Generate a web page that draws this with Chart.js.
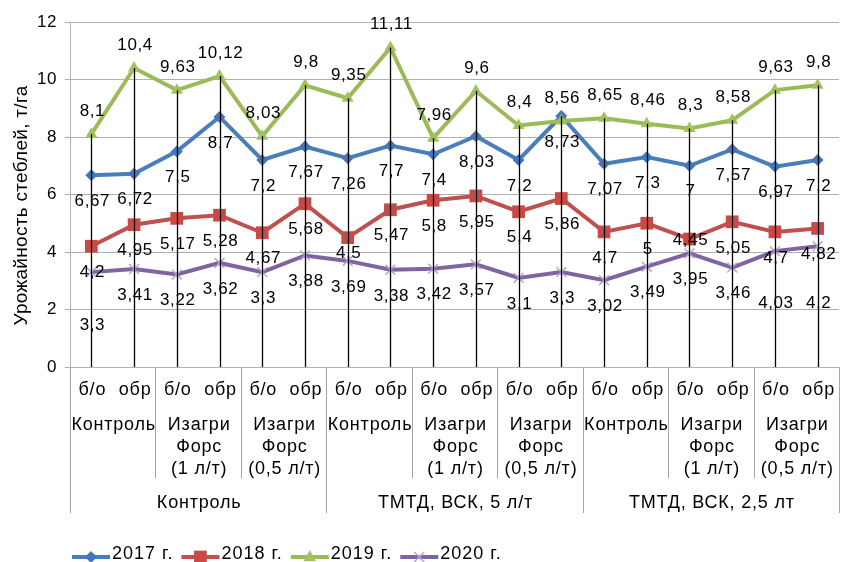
<!DOCTYPE html>
<html>
<head>
<meta charset="utf-8">
<script src="https://cdn.jsdelivr.net/npm/chart.js@4.4.1/dist/chart.umd.min.js"></script>
<style>
    html, body { margin: 0; padding: 0; background: #fff; }
    #wrap { width: 848px; height: 562px; }
</style>
</head>
<body>
<div id="wrap"><canvas id="yield-chart" width="848" height="562"></canvas></div>
<script>
// Axis labels (three levels)
const subLabels = ['б/о', 'обр'];
const variantLabels = [['Контроль'], ['Изагри', 'Форс', '(1 л/т)'], ['Изагри', 'Форс', '(0,5 л/т)']];
const backgroundLabels = ['Контроль', 'ТМТД, ВСК, 5 л/т', 'ТМТД, ВСК, 2,5 лт'];

// Series values, т/га
const y2017 = [6.67, 6.72, 7.5, 8.7, 7.2, 7.67, 7.26, 7.7, 7.4, 8.03, 7.2, 8.73, 7.07, 7.3, 7, 7.57, 6.97, 7.2];
const y2018 = [4.2, 4.95, 5.17, 5.28, 4.67, 5.68, 4.5, 5.47, 5.8, 5.95, 5.4, 5.86, 4.7, 5, 4.45, 5.05, 4.7, 4.82];
const y2019 = [8.1, 10.4, 9.63, 10.12, 8.03, 9.8, 9.35, 11.11, 7.96, 9.6, 8.4, 8.56, 8.65, 8.46, 8.3, 8.58, 9.63, 9.8];
const y2020 = [3.3, 3.41, 3.22, 3.62, 3.3, 3.88, 3.69, 3.38, 3.42, 3.57, 3.1, 3.3, 3.02, 3.49, 3.95, 3.46, 4.03, 4.2];
const seriesNames = ['2017 г.', '2018 г.', '2019 г.', '2020 г.'];

// Y axis range
const yMin = 0;
const yMax = 12;
const yStep = 2;

const yTitle = 'Урожайность стеблей, т/га';

// build the flat category list
const categories = [];
backgroundLabels.forEach(() => {
    variantLabels.forEach(() => {
        subLabels.forEach(s => categories.push(s));
    });
});

const seriesData = [y2017, y2018, y2019, y2020];
const styles = [
    { color: '#4a7ebb', marker: 'rectRot', r: 6, fill: '#4277b8', labelDy: 26 },
    { color: '#c0504d', marker: 'rect', r: 9, fill: '#c84a47', labelDy: 26 },
    { color: '#9bbb59', marker: 'triangle', r: 7, fill: '#a3c25f', labelDy: -23 },
    { color: '#8064a2', marker: 'crossRot', r: 7, fill: '#b5a6cc', labelDy: 26 }
];
// labels that Excel nudged off their usual place
const labelNudge = { '1-6': 16, '1-14': 1, '3-0': 53, '3-16': 52, '3-17': 57 };

const FONT = '"Liberation Sans", Arial, sans-serif';

function drawMarker(ctx, type, x, y, r, color) {
    ctx.save();
    ctx.fillStyle = color;
    ctx.strokeStyle = color;
    ctx.beginPath();
    if (type === 'rectRot') {
        ctx.moveTo(x - r, y); ctx.lineTo(x, y - r); ctx.lineTo(x + r, y); ctx.lineTo(x, y + r);
        ctx.closePath(); ctx.fill();
    } else if (type === 'rect') {
        const s = r * Math.SQRT1_2;
        ctx.rect(x - s, y - s, 2 * s, 2 * s); ctx.fill();
    } else if (type === 'triangle') {
        ctx.moveTo(x, y - r); ctx.lineTo(x + r * 0.9, y + r * 0.6); ctx.lineTo(x - r * 0.9, y + r * 0.6);
        ctx.closePath(); ctx.fill();
    } else {
        const s = r * Math.SQRT1_2;
        ctx.lineWidth = 1.5;
        ctx.moveTo(x - s, y - s); ctx.lineTo(x + s, y + s);
        ctx.moveTo(x + s, y - s); ctx.lineTo(x - s, y + s);
        ctx.stroke();
    }
    ctx.restore();
}

const excelPlugin = {
    id: 'excelLook',
    beforeDraw(chart) {
        chart.ctx.letterSpacing = '0.5px';
    },
    afterDatasetsDraw(chart) {
        const ctx = chart.ctx;
        const x = chart.scales.x;
        const y = chart.scales.y;
        const bottom = chart.chartArea.bottom;

        // drop lines from the highest point
        ctx.save();
        ctx.strokeStyle = '#000';
        ctx.lineWidth = 1.3;
        categories.forEach((c, i) => {
            const top = Math.max(...seriesData.map(d => d[i]));
            const px = Math.round(x.getPixelForValue(i)) + 0.5;
            ctx.beginPath();
            ctx.moveTo(px, y.getPixelForValue(top));
            ctx.lineTo(px, bottom);
            ctx.stroke();
        });
        ctx.restore();

        // data labels
        ctx.save();
        ctx.letterSpacing = '0.6px';
        ctx.font = '17px ' + FONT;
        ctx.fillStyle = '#000';
        ctx.textAlign = 'center';
        ctx.textBaseline = 'middle';
        seriesData.forEach((d, s) => {
            d.forEach((v, i) => {
                const key = s + '-' + i;
                const dy = labelNudge[key] !== undefined ? labelNudge[key] : styles[s].labelDy;
                const txt = String(v).replace('.', ',');
                ctx.fillText(txt, x.getPixelForValue(i) + 1, y.getPixelForValue(v) + dy);
            });
        });
        ctx.restore();
    },
    afterDraw(chart) {
        const ctx = chart.ctx;
        const x = chart.scales.x;
        const area = chart.chartArea;
        const step = (area.right - area.left) / categories.length;

        ctx.save();
        ctx.letterSpacing = '0.8px';

        // separators under the axis
        ctx.strokeStyle = '#a6a6a6';
        ctx.lineWidth = 1;
        for (let i = 0; i <= categories.length; i += 2) {
            const px = Math.round(area.left + i * step) + 0.5;
            const isBig = i % 6 === 0;
            ctx.beginPath();
            ctx.moveTo(px, area.bottom);
            ctx.lineTo(px, isBig ? area.bottom + 146 : area.bottom + 111);
            ctx.stroke();
        }

        // category labels
        ctx.fillStyle = '#000';
        ctx.textAlign = 'center';
        ctx.textBaseline = 'middle';
        ctx.font = '18px ' + FONT;
        categories.forEach((c, i) => {
            ctx.fillText(c, x.getPixelForValue(i) + 1, area.bottom + 23);
        });
        let g = 0;
        backgroundLabels.forEach((bg, b) => {
            variantLabels.forEach(lines => {
                const cx = (x.getPixelForValue(g) + x.getPixelForValue(g + 1)) / 2 + 1;
                lines.forEach((ln, k) => {
                    ctx.fillText(ln, cx, area.bottom + 58 + k * 22);
                });
                g += 2;
            });
            const bx = (x.getPixelForValue(b * 6) + x.getPixelForValue(b * 6 + 5)) / 2 + 1;
            ctx.fillText(bg, bx, area.bottom + 136);
        });

        // y axis title
        ctx.save();
        ctx.letterSpacing = '0.3px';
        ctx.translate(22, (area.top + area.bottom) / 2 + 11);
        ctx.rotate(-Math.PI / 2);
        ctx.font = '19px ' + FONT;
        ctx.fillText(yTitle, 0, 0);
        ctx.restore();

        // legend
        ctx.font = '18px ' + FONT;
        ctx.letterSpacing = '1px';
        ctx.textAlign = 'left';
        let lx = 72;
        const ly = 557;
        seriesNames.forEach((name, s) => {
            ctx.strokeStyle = styles[s].color;
            ctx.lineWidth = 4;
            ctx.beginPath();
            ctx.moveTo(lx, ly);
            ctx.lineTo(lx + 38, ly);
            ctx.stroke();
            drawMarker(ctx, styles[s].marker, lx + 19, ly, styles[s].r, styles[s].fill);
            ctx.fillStyle = '#000';
            ctx.fillText(name, lx + 40, ly - 3);
            lx += 40 + ctx.measureText(name).width + 8;
        });
        ctx.restore();
    }
};

const ctx = document.getElementById('yield-chart');
new Chart(ctx, {
    type: 'line',
    data: {
        labels: categories,
        datasets: seriesData.map((d, s) => ({
            label: seriesNames[s],
            data: d,
            borderColor: styles[s].color,
            backgroundColor: styles[s].fill,
            borderWidth: 4,
            pointStyle: styles[s].marker,
            pointRadius: styles[s].r,
            pointBorderColor: styles[s].fill,
            pointBorderWidth: styles[s].marker === 'crossRot' ? 1.5 : 0,
            pointBackgroundColor: styles[s].fill,
            tension: 0,
            fill: false,
            order: 3 - s
        }))
    },
    options: {
        responsive: false,
        animation: false,
        layout: { padding: { top: 22, right: 6, left: 0, bottom: 0 } },
        plugins: {
            legend: { display: false },
            tooltip: { enabled: false }
        },
        scales: {
            x: {
                type: 'category',
                offset: true,
                grid: { display: false },
                border: { display: false },
                ticks: { display: false },
                afterFit: function(scale) { scale.height = 195; }
            },
            y: {
                min: yMin,
                max: yMax,
                ticks: {
                    stepSize: yStep,
                    color: '#000',
                    padding: 8,
                    font: { size: 17, family: FONT }
                },
                grid: { color: '#b0b0b0', tickLength: 5, lineWidth: 1 },
                border: { color: '#b0b0b0' },
                afterFit: function(scale) { scale.width = 70; }
            }
        }
    },
    plugins: [excelPlugin]
});
</script>
</body>
</html>
